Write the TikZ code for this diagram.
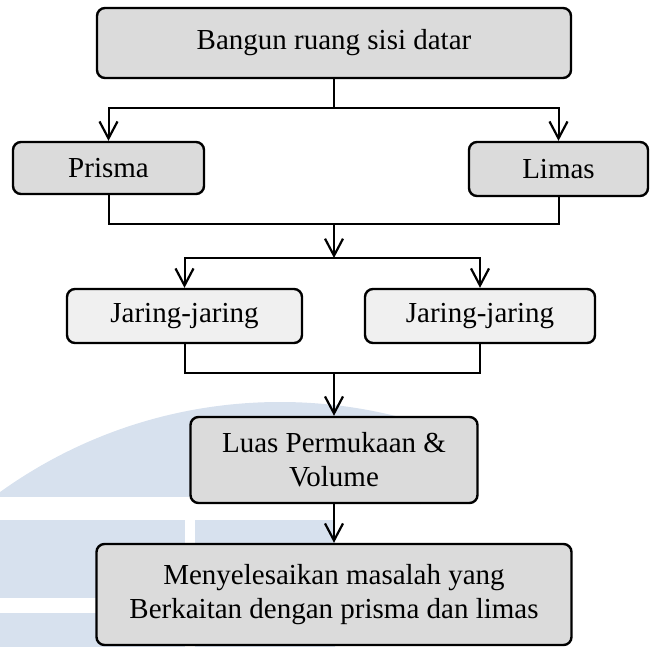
\documentclass[tikz,border=0pt]{standalone}
\usepackage{fontspec}
\setmainfont{Liberation Serif}
\usepackage{tikz}
\usetikzlibrary{arrows.meta}
\definecolor{wmblue}{RGB}{215,225,238}

\begin{document}
\begin{tikzpicture}[x=.5pt, y=-.5pt,
		box/.style={draw, line width=1.2pt, rounded corners=4pt, fill=black!14,
			inner sep=2pt, align=center, font=\fontsize{14.5}{17}\selectfont},
		link/.style={line width=1pt},
		arr/.style={link, -{Straight Barb[length=8.5pt, width=9pt, line width=1.1pt]}}]
				\useasboundingbox (0,0) rectangle (653,647);
				% faint watermark behind the chart
				\begin{scope}
					\clip (0,0) -- (420,0) -- (420,505) -- (335,505) -- (335,647) -- (0,647) -- cycle;
					\fill[wmblue] (280,882) circle (240pt);
				\end{scope}
				\fill[white] (0,497) rectangle (420,520);
				\fill[white] (0,598) rectangle (335,613);
				\fill[white] (185,520) rectangle (195,647);
				% boxes
				\node[box, minimum width=237pt, minimum height=35pt] (top) at (334,43) {Bangun ruang sisi datar};
				\node[box, minimum width=95.5pt, minimum height=26pt] (prisma) at (108.5,168) {Prisma};
				\node[box, minimum width=89.5pt, minimum height=27pt] (limas) at (558.5,169) {Limas};
				\node[box, fill=black!6, minimum width=117.5pt, minimum height=27pt] (jaring1) at (184.5,316) {Jaring-jaring};
				\node[box, fill=black!6, minimum width=115pt, minimum height=27pt] (jaring2) at (480,316) {Jaring-jaring};
				\node[box, minimum width=143.5pt, minimum height=43pt] (luas) at (334,460) {Luas Permukaan \&\\Volume};
				\node[box, minimum width=237.5pt, minimum height=50.5pt] (akhir) at (334,594.5) {Menyelesaikan masalah yang\\Berkaitan dengan prisma dan limas};
				% junctions
				\coordinate (split1) at (334,108);
				\coordinate (merge1) at (334,224);
				\coordinate (split2) at (334,258);
				\coordinate (merge2) at (334,373);
				% connectors
				\draw[link] (top.south) -- (split1);
				\draw[arr] (split1) -| (prisma.north);
				\draw[arr] (split1) -| (limas.north);
				\draw[link] (prisma.south) |- (merge1) -| (limas.south);
				\draw[arr] (merge1) -- (split2);
				\draw[arr] (split2) -| (jaring1.north);
				\draw[arr] (split2) -| (jaring2.north);
				\draw[link] (jaring1.south) |- (merge2) -| (jaring2.south);
				\draw[arr] (merge2) -- (luas.north);
				\draw[arr] (luas.south) -- (akhir.north);
			\end{tikzpicture}
\end{document}
